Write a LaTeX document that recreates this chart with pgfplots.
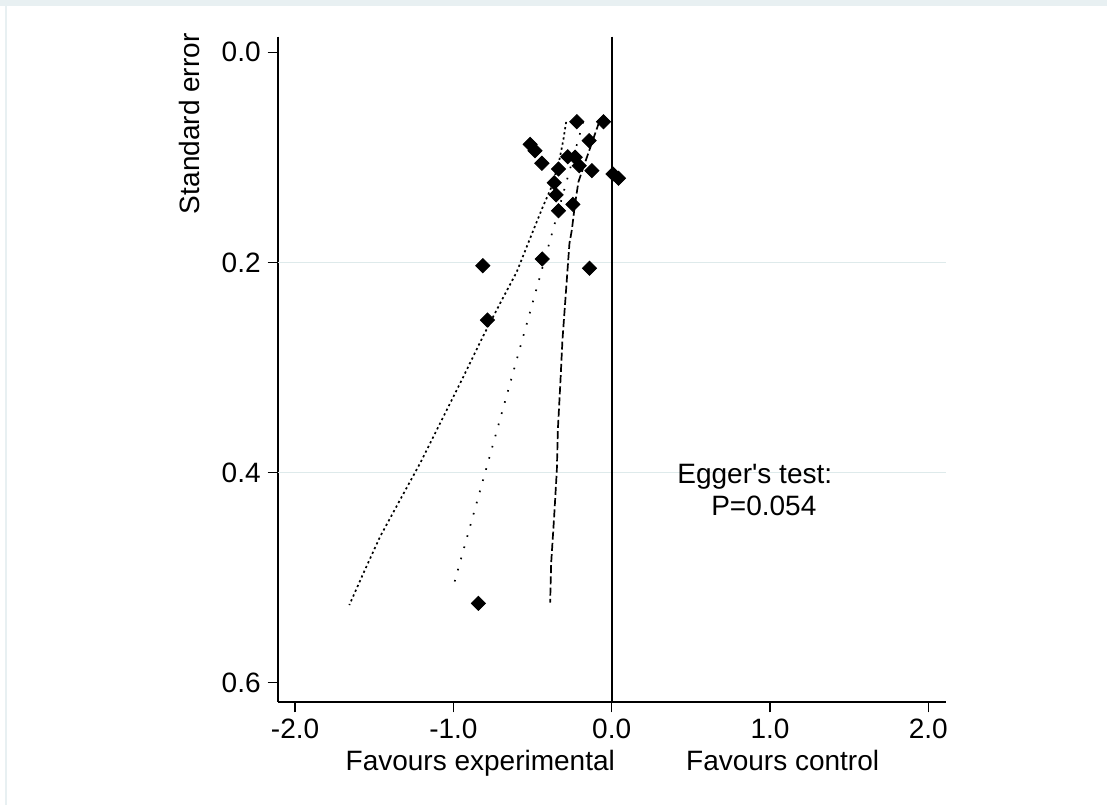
\documentclass[border=0pt]{standalone}
\usepackage{fontspec}
\setmainfont{Liberation Sans}
\usepackage{pgfplots}
\pgfplotsset{compat=1.18}
\definecolor{gridc}{RGB}{222,234,235}
\definecolor{framec}{RGB}{232,240,242}
\begin{document}
\begin{tikzpicture}[font=\fontsize{14pt}{16pt}\selectfont]
\path[use as bounding box] (0,0) rectangle (553.5pt,402.5pt);
\fill[framec] (0,399.5pt) rectangle (553.5pt,402.5pt);
\fill[framec] (2.5pt,0) rectangle (3.5pt,399.5pt);
\begin{axis}[
 at={(139.15pt,51.65pt)}, anchor=south west,
 scale only axis, width=333.7pt, height=332.5pt,
 xmin=-2.106, xmax=2.11, ymin=-0.0148, ymax=0.618,
 y dir=reverse,
 axis x line*=bottom, axis y line*=left,
 axis line style={line width=0.9pt, -},
 xtick={-2,-1,0,1,2}, xticklabels={-2.0,-1.0,0.0,1.0,2.0},
 ytick={0,0.2,0.4,0.6}, yticklabels={0.0,0.2,0.4,0.6},
 tick align=outside, major tick length=5.3pt,
 tick style={line width=0.6pt, black},
 clip=false,
]
% gridlines
\addplot[gridc, line width=0.8pt, forget plot] coordinates {(-2.106,0.2) (2.11,0.2)};
\addplot[gridc, line width=0.8pt, forget plot] coordinates {(-2.106,0.4) (2.11,0.4)};
% zero line
\addplot[black, line width=0.9pt] coordinates {(0,-0.0148) (0,0.618)};
% left band
\addplot[black, line width=0.85pt, dash pattern=on 1.1pt off 1.5pt] coordinates {
(-0.2876,0.0663) (-0.3054,0.0834) (-0.3306,0.1025) (-0.3749,0.1263) (-0.4381,0.1482) (-0.4943,0.1691)
(-0.5992,0.2088) (-0.7048,0.2389) (-0.8142,0.2707) (-0.9368,0.3087) (-1.0632,0.3468)
(-1.2105,0.3912) (-1.3262,0.4230) (-1.4633,0.4610) (-1.5689,0.4959) (-1.6574,0.5260)};
% middle line
\addplot[black, line width=0.85pt, dash pattern=on 0.8pt off 5pt] coordinates {
(-0.180,0.0663) (-1.000,0.508)};
% right band
\addplot[black, line width=0.85pt, dash pattern=on 4pt off 1.6pt] coordinates {
(-0.079,0.0663) (-0.104,0.0771) (-0.161,0.1018) (-0.210,0.1232) (-0.2326,0.1453) (-0.2516,0.1691)
(-0.2668,0.1818) (-0.311,0.2738) (-0.3255,0.3183) (-0.3401,0.3595) (-0.3464,0.3975)
(-0.3635,0.4420) (-0.3824,0.4863) (-0.3888,0.5238)};
% studies
\addplot[only marks, mark=square*, mark size=2.5pt, mark options={rotate=45, fill=black, draw=black}] table {
x y
-0.220 0.0661
-0.052 0.0661
-0.142 0.0841
-0.515 0.0876
-0.484 0.0937
-0.441 0.1056
-0.336 0.1111
-0.277 0.0994
-0.231 0.0999
-0.205 0.1079
-0.125 0.1127
0.008 0.1158
0.043 0.1199
-0.363 0.1241
-0.351 0.1358
-0.336 0.1508
-0.245 0.1447
-0.814 0.2031
-0.439 0.1967
-0.140 0.2056
-0.785 0.2548
-0.842 0.5244
};
\node[rotate=90] at (axis cs:-2.664,0.068) {Standard error};
\node[anchor=base] at (axis cs:-0.83,0.683) {Favours experimental};
\node[anchor=base] at (axis cs:1.08,0.683) {Favours control};
\node[anchor=base] at (axis cs:0.904,0.410) {Egger\textquotesingle s test:};
\node[anchor=base] at (axis cs:0.961,0.4404) {P=0.054};
\end{axis}
\end{tikzpicture}
\end{document}
